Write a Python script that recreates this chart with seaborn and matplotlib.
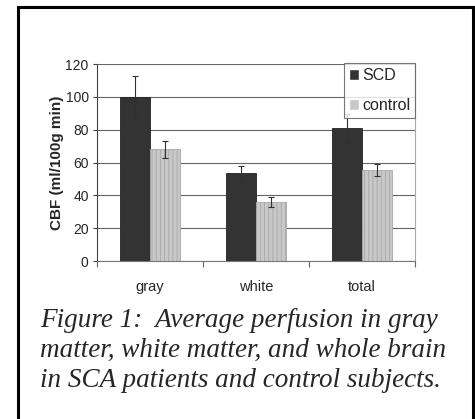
import matplotlib
matplotlib.use("Agg")
import matplotlib.pyplot as plt
import seaborn as sns
import pandas as pd
from matplotlib.patches import Rectangle

categories = ["gray", "white", "total"]
groups = ["SCD", "control"]
scd_values = [100, 53.4, 81.2]
scd_errors = [12.7, 4.7, 8.6]
control_values = [68, 36, 55.2]
control_errors = [5.0, 3.0, 3.7]
y_ticks = [0, 20, 40, 60, 80, 100, 120]
y_label = "CBF (ml/100g min)"
caption = ("Figure 1:  Average perfusion in gray\n"
           "matter, white matter, and whole brain\n"
           "in SCA patients and control subjects.")

sns.set_style("white")
plt.rcParams["font.family"] = ["Liberation Sans", "DejaVu Sans"]
plt.rcParams["hatch.linewidth"] = 0.6

df = pd.DataFrame({
    "category": categories * 2,
    "group": [groups[0]] * 3 + [groups[1]] * 3,
    "value": scd_values + control_values,
})

fig = plt.figure(figsize=(4.75, 4.19), dpi=100)
ax = fig.add_axes([97 / 475, 1 - 261 / 419, 318 / 475, 197 / 419])

sns.barplot(data=df, x="category", y="value", hue="group", order=categories,
            hue_order=groups, palette={"SCD": "#333333", "control": "#c8c8c8"},
            width=0.57, errorbar=None, ax=ax, legend=True)

n = len(categories)
for i, patch in enumerate(ax.patches[: 2 * n]):
    gi = i // n
    ci = i % n
    if gi == 0:
        patch.set_edgecolor("#222222")
        patch.set_linewidth(0.6)
    else:
        patch.set_hatch("||||")
        patch.set_edgecolor("#a8a8a8")
        patch.set_linewidth(0.6)
    xc = patch.get_x() + patch.get_width() / 2
    err = (scd_errors if gi == 0 else control_errors)[ci]
    val = patch.get_height()
    ax.errorbar(xc, val, yerr=err, fmt="none", ecolor="#303030",
                elinewidth=0.8, capsize=2.5, capthick=0.8, zorder=5)

ax.set_xlim(-0.5, n - 0.5)
ax.set_ylim(0, 120)
ax.set_yticks(y_ticks)
ax.yaxis.grid(True, color="#666666", linewidth=0.8)
ax.set_axisbelow(True)
ax.set_xlabel("")
ax.set_ylabel(y_label, fontsize=11, fontweight="bold", labelpad=1)
ax.tick_params(axis="y", labelsize=10, length=3, width=0.8, color="#444444",
               left=True, pad=3)
ax.tick_params(axis="x", labelsize=10.5, length=0, pad=14)
ax.set_xticks([i - 0.5 for i in range(n + 1)], minor=True)
ax.tick_params(axis="x", which="minor", length=4, width=0.8, color="#666666",
               bottom=True)

ax.spines["left"].set_color("#444444")
ax.spines["left"].set_linewidth(0.8)
ax.spines["bottom"].set_color("#777777")
ax.spines["bottom"].set_linewidth(0.8)
ax.spines["right"].set_visible(True)
ax.spines["right"].set_color("#aaaaaa")
ax.spines["right"].set_linewidth(0.8)
ax.spines["top"].set_visible(False)

leg = ax.legend(loc="upper right", bbox_to_anchor=(1.0, 1.005), fontsize=11.5,
                frameon=True, fancybox=False, handlelength=0.65,
                handleheight=0.65, handletextpad=0.2, borderpad=0.3,
                labelspacing=0.95, borderaxespad=0.0)
leg.get_frame().set_edgecolor("#555555")
leg.get_frame().set_linewidth(0.8)
leg.set_title(None)

fig.patches.append(Rectangle((17.5 / 475, -0.02), 455 / 475, 1 - 7.5 / 419 + 0.02,
                             transform=fig.transFigure, fill=False,
                             edgecolor="black", linewidth=2.2))

fig.text(40 / 475, 1 - 308 / 419, caption, fontsize=19.5,
         family=["Liberation Serif", "DejaVu Serif"], style="italic",
         va="top", ha="left", linespacing=1.25)

fig.savefig("out.png", dpi=100)
